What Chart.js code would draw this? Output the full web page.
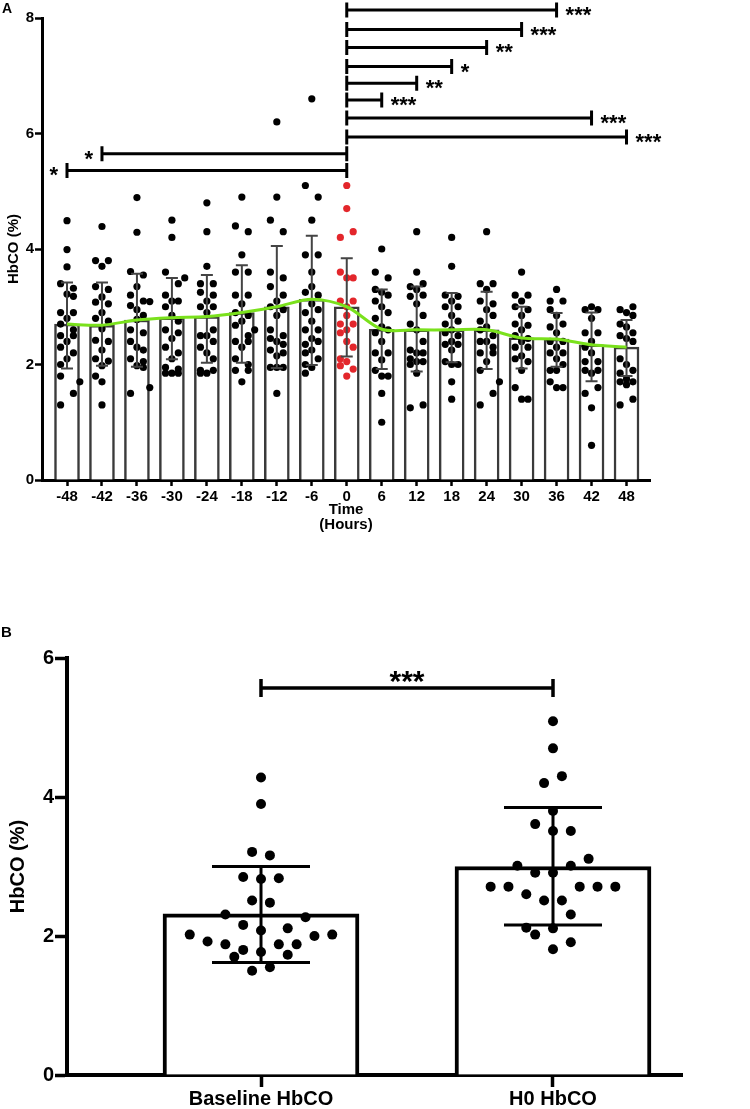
<!DOCTYPE html>
<html>
<head>
<meta charset="utf-8">
<script src="https://cdn.jsdelivr.net/npm/chart.js@4.4.1/dist/chart.umd.min.js"></script>
<style>
  body { margin: 0; background: #fff; width: 750px; height: 1109px; position: relative; overflow: hidden; font-family: 'Liberation Sans', Arial, sans-serif; }
  .letter { position: absolute; font-weight: bold; z-index: 2; color: #000; }
  #chartA { position: absolute; left: 0; top: 0; }
  #chartB { position: absolute; left: 0; top: 560px; }
</style>
</head>
<body>
<div class="letter" style="left:2px; top:0px; font-size:14px;">A</div>
<div class="letter" style="left:1px; top:623px; font-size:15px;">B</div>
<canvas id="chartA" width="750" height="540"></canvas>
<canvas id="chartB" width="750" height="549"></canvas>
<script>
// ---- panel A data ----
const hours = [-48, -42, -36, -30, -24, -18, -12, -6, 0, 6, 12, 18, 24, 30, 36, 42, 48];
const meanA = [2.70, 2.68, 2.77, 2.81, 2.83, 2.90, 3.00, 3.13, 3.00, 2.61, 2.60, 2.60, 2.60, 2.46, 2.44, 2.34, 2.30];
const sdHighA = [3.42, 3.42, 3.57, 3.50, 3.55, 3.72, 4.05, 4.23, 3.84, 3.30, 3.35, 3.24, 3.26, 3.00, 2.89, 2.90, 2.77];
const sdLowA = [1.93, 1.98, 1.96, 2.09, 2.03, 2.03, 1.94, 1.99, 2.14, 1.92, 1.88, 2.04, 1.92, 1.93, 1.96, 1.71, 1.80];

// individual patients per time point: [column, value]
const dotsA = [
  [[0,4.49],[0,3.99],[0,3.69],[-1,3.40],[1,3.32],[0,3.22],[1,3.18],[-1,2.90],[1,2.90],[0,2.80],[-1,2.70],[1,2.60],[-1,2.50],[1,2.50],[0,2.40],[-1,2.30],[1,2.20],[0,2.10],[-1,2.00],[-1,1.80],[2,1.70],[1,1.50],[-1,1.30]],
  [[0,4.39],[-1,3.80],[1,3.80],[0,3.70],[-1,3.35],[1,3.30],[0,3.17],[-1,3.08],[1,3.05],[0,2.90],[-1,2.80],[1,2.75],[0,2.62],[-1,2.42],[1,2.40],[0,2.25],[-1,2.10],[1,2.06],[0,1.98],[-1,1.80],[0,1.70],[0,1.30]],
  [[0,4.89],[0,4.29],[-1,3.61],[1,3.55],[0,3.35],[-1,3.20],[1,3.10],[2,3.09],[-1,3.02],[0,2.95],[1,2.85],[0,2.78],[-1,2.60],[1,2.55],[-1,2.40],[0,2.30],[1,2.25],[-1,2.10],[1,2.05],[0,1.98],[1,1.95],[2,1.60],[-1,1.50]],
  [[0,4.50],[0,4.20],[-1,3.60],[2,3.50],[1,3.40],[-1,3.20],[0,3.10],[1,3.10],[-1,3.00],[0,2.85],[1,2.75],[-1,2.60],[1,2.55],[0,2.45],[-1,2.30],[1,2.20],[0,2.10],[-1,1.95],[1,1.92],[0,1.85],[-1,1.85],[1,1.85]],
  [[0,4.80],[0,4.30],[0,3.70],[-1,3.40],[1,3.40],[-1,3.25],[1,3.20],[0,3.10],[-1,3.00],[1,3.00],[0,2.90],[1,2.60],[-1,2.50],[0,2.50],[1,2.40],[-1,2.30],[0,2.20],[1,2.10],[-1,1.90],[0,1.85],[1,1.90],[-1,1.85]],
  [[0,4.90],[-1,4.40],[1,4.30],[0,3.90],[-1,3.60],[1,3.60],[-1,3.20],[1,3.20],[0,3.05],[-1,2.90],[1,2.85],[0,2.75],[-1,2.68],[2,2.60],[1,2.50],[-1,2.40],[0,2.30],[1,2.40],[-1,2.10],[1,2.00],[-1,1.90],[1,1.90],[0,1.70]],
  [[0,6.20],[0,4.90],[-1,4.50],[1,4.30],[-1,3.60],[1,3.50],[-1,3.35],[1,3.20],[0,3.10],[-1,3.00],[1,2.95],[0,2.85],[-1,2.60],[1,2.50],[-1,2.45],[0,2.40],[1,2.35],[-1,2.25],[1,2.20],[0,2.15],[-1,1.95],[0,1.95],[1,1.95],[0,1.50]],
  [[0,6.60],[-1,5.10],[1,4.90],[0,4.50],[-1,3.90],[1,3.90],[0,3.60],[0,3.35],[-1,3.25],[1,3.20],[0,3.05],[-1,2.90],[1,2.95],[0,2.75],[-1,2.60],[1,2.60],[0,2.45],[-1,2.35],[1,2.40],[0,2.25],[-1,2.20],[1,2.10],[-1,2.00],[0,1.95],[-1,1.85]],
  [[0,5.10],[0,4.70],[1,4.30],[-1,4.20],[-1,3.60],[0,3.50],[1,3.50],[-1,3.10],[1,3.10],[0,3.00],[0,2.85],[-1,2.70],[1,2.70],[0,2.60],[-1,2.55],[1,2.30],[0,2.40],[-1,2.10],[0,2.05],[-1,1.98],[1,1.92],[0,1.80]],
  [[0,4.00],[-1,3.60],[1,3.50],[-1,3.30],[0,3.25],[1,3.20],[-1,3.10],[0,3.00],[1,2.90],[-1,2.80],[0,2.65],[1,2.60],[-1,2.55],[0,2.40],[-1,2.20],[1,2.20],[0,2.08],[-1,1.90],[0,1.80],[1,1.80],[0,1.50],[0,1.00]],
  [[0,4.30],[0,3.60],[1,3.40],[-1,3.35],[0,3.30],[1,3.20],[-1,3.18],[0,3.05],[1,2.85],[-1,2.70],[0,2.60],[1,2.40],[-1,2.25],[0,2.20],[1,2.20],[-1,2.10],[0,2.05],[1,2.05],[-1,2.00],[0,1.85],[-1,1.25],[1,1.30]],
  [[0,4.20],[0,3.70],[-1,3.20],[1,3.18],[0,3.10],[-1,3.00],[1,3.00],[0,2.85],[-1,2.70],[1,2.75],[0,2.60],[-1,2.55],[1,2.50],[0,2.40],[-1,2.35],[1,2.35],[0,2.25],[-1,2.05],[0,2.00],[1,2.00],[0,1.70],[0,1.40]],
  [[0,4.30],[-1,3.40],[1,3.40],[0,3.30],[-1,3.10],[1,3.05],[0,2.95],[1,2.85],[-1,2.75],[0,2.65],[-1,2.60],[1,2.50],[-1,2.40],[0,2.40],[1,2.30],[-1,2.20],[1,2.20],[0,2.05],[-1,1.90],[2,1.70],[1,1.50],[-1,1.30]],
  [[0,3.60],[-1,3.20],[1,3.20],[0,3.10],[-1,3.00],[1,2.95],[0,2.85],[-1,2.70],[1,2.68],[0,2.60],[-1,2.50],[1,2.45],[0,2.40],[-1,2.30],[1,2.30],[0,2.15],[-1,2.10],[1,2.05],[0,1.90],[-1,1.60],[0,1.40],[1,1.40]],
  [[0,3.30],[-1,3.10],[1,3.10],[-1,2.95],[0,2.85],[1,2.70],[-1,2.65],[0,2.55],[-1,2.40],[1,2.40],[0,2.30],[-1,2.20],[1,2.20],[0,2.10],[-1,1.90],[0,1.90],[1,2.00],[-1,1.70],[0,1.60],[1,1.60]],
  [[0,3.00],[-1,2.95],[1,2.95],[0,2.80],[-1,2.55],[1,2.55],[0,2.40],[-1,2.30],[0,2.20],[-1,2.05],[1,2.05],[-1,1.90],[1,1.90],[0,1.85],[-1,1.50],[1,1.60],[0,1.25],[0,0.60]],
  [[1,3.00],[-1,2.95],[0,2.90],[1,2.85],[-1,2.70],[0,2.65],[1,2.55],[-1,2.50],[0,2.45],[1,2.40],[-1,2.10],[0,2.00],[1,1.90],[-1,1.85],[0,1.75],[-1,1.70],[1,1.70],[0,1.65],[1,1.40],[-1,1.30]]
];
const colStepA = 1.1; // hours between dot columns

const bracketFromA = [0, 0, 0, 0, 0, 0, 0, 0, -42, -48];
const bracketToA = [36, 30, 24, 18, 12, 6, 42, 48, 0, 0];
const bracketYA = [8.14, 7.80, 7.49, 7.16, 6.87, 6.58, 6.27, 5.94, 5.65, 5.36];
const bracketStarsA = ['***', '***', '**', '*', '**', '***', '***', '***', '*', '*'];

// ---- panel B data ----
const groupsB = ['Baseline HbCO', 'H0 HbCO'];
const meanB = [2.32, 3.00];
const sdHighB = [3.00, 3.85];
const sdLowB = [1.62, 2.16];
const dotsB = [
  [[0,4.28],[0,3.90],[-1,3.21],[1,3.16],[-2,2.85],[0,2.82],[2,2.83],[-1,2.51],[1,2.48],[-4,2.31],[5,2.27],[-2,2.16],[0,2.08],[3,2.11],[-8,2.02],[6,2.00],[8,2.02],[-6,1.92],[-4,1.88],[2,1.88],[4,1.88],[-2,1.80],[0,1.77],[-3,1.70],[3,1.73],[-1,1.50],[1,1.55]],
  [[0,5.09],[0,4.70],[1,4.30],[-1,4.20],[0,3.80],[-2,3.61],[0,3.51],[2,3.51],[4,3.11],[-4,3.01],[2,3.01],[-2,2.91],[0,2.91],[-7,2.71],[-5,2.71],[3,2.71],[5,2.71],[7,2.71],[-3,2.60],[-1,2.51],[1,2.51],[2,2.31],[-3,2.12],[0,2.11],[-2,2.02],[2,1.91],[0,1.81]]
];
const colStepB = 0.0305;
const bracketFromB = [0];
const bracketToB = [1];
const bracketYB = [5.57];
const bracketStarsB = ['***'];

Chart.defaults.font.family = "'Liberation Sans', Arial, sans-serif";
Chart.defaults.color = '#000';

function drawErrorBars(chart, xs, highs, lows, capHalf, color, width) {
  const { ctx, scales: { x, y } } = chart;
  ctx.save();
  ctx.strokeStyle = color;
  ctx.lineWidth = width;
  ctx.beginPath();
  xs.forEach((v, i) => {
    const px = x.getPixelForValue(v);
    const top = y.getPixelForValue(highs[i]);
    const bot = y.getPixelForValue(lows[i]);
    ctx.moveTo(px, top); ctx.lineTo(px, bot);
    ctx.moveTo(px - capHalf, top); ctx.lineTo(px + capHalf, top);
    ctx.moveTo(px - capHalf, bot); ctx.lineTo(px + capHalf, bot);
  });
  ctx.stroke();
  ctx.restore();
}

// brackets with stars; side = where the stars go
function drawBrackets(chart, from, to, vals, stars, o) {
  const { ctx, scales: { x, y } } = chart;
  ctx.save();
  ctx.strokeStyle = '#000';
  ctx.fillStyle = '#000';
  ctx.lineWidth = o.width;
  ctx.font = 'bold ' + o.starSize + "px 'Liberation Sans', Arial, sans-serif";
  from.forEach((f, i) => {
    const x1 = x.getPixelForValue(f), x2 = x.getPixelForValue(to[i]);
    const py = y.getPixelForValue(vals[i]);
    ctx.beginPath();
    ctx.moveTo(x1, py); ctx.lineTo(x2, py);
    ctx.moveTo(x1, py - o.cap); ctx.lineTo(x1, py + o.cap);
    ctx.moveTo(x2, py - o.cap); ctx.lineTo(x2, py + o.cap);
    ctx.stroke();
    const m = ctx.measureText(stars[i]);
    const mid = (m.actualBoundingBoxAscent - m.actualBoundingBoxDescent) / 2;
    let tx, cy;
    if (o.side === 'top') {
      ctx.textAlign = 'center';
      tx = (x1 + x2) / 2; cy = py - o.lift;
    } else if (f < 0) {
      ctx.textAlign = 'right';
      tx = Math.min(x1, x2) - o.gap; cy = py + o.lift;
    } else {
      ctx.textAlign = 'left';
      tx = Math.max(x1, x2) + o.gap; cy = py + o.lift;
    }
    ctx.fillText(stars[i], tx, cy + mid);
  });
  ctx.restore();
}

// ---- chart A ----
const pointsA = [];
const colorsA = [];
dotsA.forEach((g, i) => {
  g.forEach(d => {
    pointsA.push({ x: hours[i] + d[0] * colStepA, y: d[1] });
    colorsA.push(hours[i] === 0 ? '#e3262b' : '#000');
  });
});

const pluginA = {
  id: 'extrasA',
  afterDatasetDraw(chart, args) {
    if (args.meta.type === 'scatter') {
      drawErrorBars(chart, hours, sdHighA, sdLowA, 6, '#444', 2);
    }
  },
  afterDraw(chart) {
    drawBrackets(chart, bracketFromA, bracketToA, bracketYA, bracketStarsA,
      { width: 3, cap: 7.5, starSize: 22, gap: 9, lift: 1.5, side: 'auto' });
  }
};

new Chart(document.getElementById('chartA'), {
  type: 'bar',
  data: {
    datasets: [
      {
        type: 'line',
        data: hours.map((h, i) => ({ x: h, y: meanA[i] })),
        borderColor: '#7ae11c',
        borderWidth: 3,
        pointRadius: 0,
        tension: 0.3,
        order: 0
      },
      {
        type: 'scatter',
        data: pointsA,
        pointRadius: 3.6,
        pointBackgroundColor: colorsA,
        pointBorderWidth: 0,
        order: 1
      },
      {
        type: 'bar',
        data: hours.map((h, i) => ({ x: h, y: meanA[i] })),
        backgroundColor: '#fff',
        borderColor: '#3a3a3a',
        borderWidth: 2.5,
        barThickness: 25,
        order: 2
      }
    ]
  },
  options: {
    responsive: false,
    animation: false,
    layout: { padding: { top: 18, right: 100, left: 0, bottom: 0 } },
    plugins: { legend: { display: false }, tooltip: { enabled: false } },
    scales: {
      x: {
        type: 'linear',
        offset: false,
        min: -52.29,
        max: 52.03,
        afterBuildTicks: s => { s.ticks = hours.map(v => ({ value: v })); },
        afterFit: s => { s.height = 60; },
        grid: { offset: false, drawOnChartArea: false, tickLength: 6, tickWidth: 2.5, tickColor: '#000' },
        border: { color: '#000', width: 3 },
        ticks: { color: '#000', font: { size: 15, weight: 'bold' }, padding: 2, maxRotation: 0, autoSkip: false, callback: v => String(v) },
        title: { display: true, text: ['Time', '(Hours)'], color: '#000', font: { size: 15, weight: 'bold', lineHeight: 1.05 }, padding: { top: 0, bottom: 7 } }
      },
      y: {
        min: 0,
        max: 8,
        afterFit: s => { s.width = 42; },
        ticks: { stepSize: 2, color: '#000', font: { size: 15, weight: 'bold' }, padding: 1 },
        grid: { drawOnChartArea: false, tickLength: 7, tickWidth: 2.5, tickColor: '#000' },
        border: { color: '#000', width: 3 },
        title: { display: true, text: 'HbCO (%)', color: '#000', font: { size: 15, weight: 'bold' }, padding: { top: 5, bottom: 0 } }
      }
    }
  },
  plugins: [pluginA]
});

// ---- chart B ----
const pointsB = [];
dotsB.forEach((g, i) => {
  g.forEach(d => pointsB.push({ x: i + d[0] * colStepB, y: d[1] }));
});

const pluginB = {
  id: 'extrasB',
  afterDatasetDraw(chart, args) {
    if (args.meta.type === 'scatter') {
      drawErrorBars(chart, [0, 1], sdHighB, sdLowB, 49, '#000', 3);
    }
  },
  afterDraw(chart) {
    drawBrackets(chart, bracketFromB, bracketToB, bracketYB, bracketStarsB,
      { width: 3.5, cap: 9, starSize: 30, gap: 0, lift: 11, side: 'top' });
  }
};

new Chart(document.getElementById('chartB'), {
  type: 'bar',
  data: {
    datasets: [
      {
        type: 'scatter',
        data: pointsB,
        pointRadius: 5,
        pointBackgroundColor: '#000',
        pointBorderWidth: 0,
        order: 1
      },
      {
        type: 'bar',
        data: meanB.map((m, i) => ({ x: i, y: m })),
        backgroundColor: '#fff',
        borderColor: '#000',
        borderWidth: 4,
        barThickness: 196,
        order: 2
      }
    ]
  },
  options: {
    responsive: false,
    animation: false,
    layout: { padding: { top: 98, right: 68, left: 0, bottom: 0 } },
    plugins: { legend: { display: false }, tooltip: { enabled: false } },
    scales: {
      x: {
        type: 'linear',
        offset: false,
        min: -0.6644,
        max: 1.4418,
        afterBuildTicks: s => { s.ticks = groupsB.map((g, i) => ({ value: i })); },
        afterFit: s => { s.height = 34; },
        grid: { offset: false, drawOnChartArea: false, tickLength: 12, tickWidth: 3.5, tickColor: '#000' },
        border: { color: '#000', width: 4 },
        ticks: { color: '#000', font: { size: 20, weight: 'bold' }, padding: 0, maxRotation: 0, autoSkip: false, callback: v => groupsB[v] }
      },
      y: {
        min: 0,
        max: 6,
        afterFit: s => { s.width = 67; },
        ticks: { stepSize: 2, color: '#000', font: { size: 20, weight: 'bold' }, padding: 1 },
        grid: { drawOnChartArea: false, tickLength: 12, tickWidth: 3.5, tickColor: '#000' },
        border: { color: '#000', width: 4 },
        title: { display: true, text: 'HbCO (%)', color: '#000', font: { size: 20, weight: 'bold' }, padding: { top: 6, bottom: 0 } }
      }
    }
  },
  plugins: [pluginB]
});
</script>
</body>
</html>
